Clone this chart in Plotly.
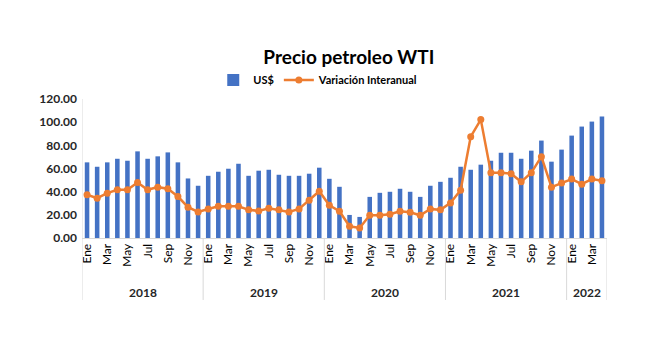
import plotly.graph_objects as go

# Monthly WTI price (US$) and year-over-year variation, Jan 2018 - Apr 2022
years = ["2018", "2019", "2020", "2021", "2022"]
months = ["Ene", "Feb", "Mar", "Abr", "May", "Jun",
          "Jul", "Ago", "Sep", "Oct", "Nov", "Dic"]
months_per_year = [12, 12, 12, 12, 4]

precio_usd = [
    65.3, 61.5, 65.3, 68.4, 66.7, 74.8, 68.4, 70.5, 73.9, 65.3, 51.4, 45.1,
    53.7, 57.2, 59.8, 64.1, 53.7, 58.1, 58.9, 54.6, 53.7, 53.7, 55.5, 60.7,
    51.1, 44.2, 19.9, 18.2, 35.5, 39.0, 39.9, 42.5, 39.9, 35.5, 45.1, 48.5,
    52.0, 61.5, 58.9, 63.3, 66.7, 73.6, 73.6, 68.4, 75.4, 84.1, 65.9, 76.3,
    88.4, 96.2, 100.5, 104.9,
]
variacion = [
    37.3, 34.4, 38.7, 41.6, 41.6, 47.9, 41.6, 43.9, 42.5, 35.8, 26.6, 22.5,
    25.1, 27.4, 27.4, 27.4, 24.3, 23.4, 25.7, 24.3, 22.5, 25.1, 32.6, 40.4,
    28.3, 23.1, 10.1, 8.7, 19.6, 19.6, 20.5, 23.1, 22.2, 19.6, 25.1, 24.3,
    30.3, 41.3, 87.5, 102.2, 56.3, 56.3, 55.5, 48.5, 56.3, 70.2, 43.9, 47.4,
    50.9, 46.5, 50.9, 49.4,
]

# Flat month index along the x axis
x_idx = list(range(sum(months_per_year)))
month_labels = [months[i % 12] for i in x_idx]

FONT = "Lato"
BLUE = "#4472C4"
ORANGE = "#ED7D31"
GRID = "#D9D9D9"

fig = go.Figure()
fig.add_trace(go.Bar(
    x=x_idx, y=precio_usd, name="US$",
    marker=dict(color=BLUE, line=dict(width=0)),
))
fig.add_trace(go.Scatter(
    x=x_idx, y=variacion, name="Variación Interanual",
    mode="lines+markers",
    line=dict(color=ORANGE, width=2.5),
    marker=dict(color=ORANGE, size=7),
))

# Month ticks every other month
tick_vals = [i for i in x_idx if i % 2 == 0]
tick_text = [month_labels[i] for i in tick_vals]

# Year group labels and dividers below the axis
shapes = []
annotations = []
start = 0
bounds = [start - 0.5]
for yr, n in zip(years, months_per_year):
    annotations.append(dict(
        x=start + (n - 1) / 2, y=-0.39, xref="x", yref="paper",
        text=f"<b>{yr}</b>", showarrow=False, yanchor="middle",
        font=dict(family=FONT, size=12, color="#262626"),
    ))
    start += n
    bounds.append(start - 0.5)
for b in bounds:
    y1 = 1 if b == bounds[0] else 0
    shapes.append(dict(
        type="line", xref="x", yref="paper", x0=b, x1=b, y0=-0.446, y1=y1,
        line=dict(color=GRID, width=1),
    ))

fig.update_layout(
    width=646, height=342,
    margin=dict(l=82, r=39, t=99, b=104),
    paper_bgcolor="white", plot_bgcolor="white",
    font=dict(family=FONT, color="#262626"),
    title=dict(
        text="<b>Precio petroleo WTI</b>", x=0.54, xanchor="center",
        y=0.833, yanchor="middle",
        font=dict(family=FONT, size=19, color="#000000"),
    ),
    legend=dict(
        orientation="h", x=0.45, xanchor="center", y=1.137, yanchor="middle",
        font=dict(family=FONT, size=11, color="#000000", weight="bold"),
        itemwidth=30, bgcolor="rgba(0,0,0,0)",
    ),
    bargap=0.55,
    showlegend=True,
    shapes=shapes,
    annotations=annotations,
)
fig.update_xaxes(
    range=[-0.5, len(x_idx) - 0.5],
    tickmode="array", tickvals=tick_vals, ticktext=tick_text,
    tickangle=-90, ticks="", showgrid=False, zeroline=False,
    showline=True, linecolor=GRID, linewidth=1,
    tickfont=dict(family=FONT, size=12, color="#000000"),
)
fig.update_yaxes(
    range=[0, 120], dtick=20, tickformat=".2f",
    showgrid=False, zeroline=False, showline=False, ticks="",
    tickfont=dict(family=FONT, size=12, color="#262626", weight="bold"),
    ticklabelstandoff=4,
)

fig.write_html("out.html")
